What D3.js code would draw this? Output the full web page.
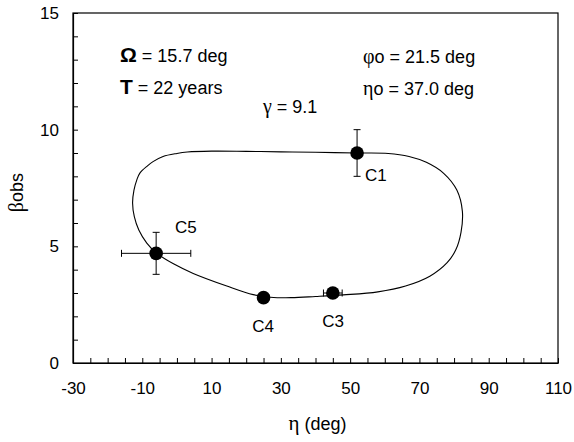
<!DOCTYPE html>
<html>
<head>
<meta charset="utf-8">
<script src="https://cdn.jsdelivr.net/npm/d3@7"></script>
<style>
  body { margin: 0; background: #fff; }
  svg { font-family: "Liberation Sans", Arial, sans-serif; }
</style>
</head>
<body>
<svg id="chart" width="574" height="442"></svg>
<script>
// observed points
var names = ["C1", "C5", "C4", "C3"];
var eta = [52, -6, 25, 45];
var beta = [9.0, 4.7, 2.8, 3.0];
var etaErr = [0, 10, 1.5, 2.7];
var betaErr = [1.0, 0.9, 0.18, 0.18];

// model curve (closed loop)
var curveEta = [-12.8, -12.4, -11.6, -10.7, -8.5, -6.9, -4, 0, 3, 10, 20, 30, 40, 52, 61, 67, 72, 77, 80.8, 82.4, 82, 80.5, 78, 73, 66, 58, 48, 40, 33, 27, 22, 14.4, 4.7, -1, -5.8, -8.7, -11.0, -12.3];
var curveBeta = [6.86, 7.41, 7.84, 8.14, 8.45, 8.63, 8.85, 8.98, 9.04, 9.08, 9.07, 9.05, 9.03, 9.0, 8.98, 8.85, 8.6, 8.13, 7.41, 6.5, 5.6, 4.85, 4.3, 3.72, 3.3, 3.05, 2.92, 2.85, 2.8, 2.82, 2.93, 3.3, 3.84, 4.25, 4.7, 5.14, 5.7, 6.27];

var xTicks = d3.range(-30, 111, 5);
var yTicks = d3.range(0, 16, 1);

var margin = {top: 13, right: 16, bottom: 79, left: 73};
var w = 574 - margin.left - margin.right;
var h = 442 - margin.top - margin.bottom;

var svg = d3.select("#chart");
var g = svg.append("g").attr("transform", "translate(" + margin.left + "," + margin.top + ")");

var x = d3.scaleLinear().domain([-30, 110]).range([0, w]);
var y = d3.scaleLinear().domain([0, 15]).range([h, 0]);

var greek = "Liberation Serif, DejaVu Serif, serif";

// frame
g.append("rect")
  .attr("width", w).attr("height", h)
  .attr("fill", "none").attr("stroke", "#000").attr("stroke-width", 1.2);

var xAxis = d3.axisBottom(x)
  .tickValues(xTicks)
  .tickSizeInner(-5).tickSizeOuter(0)
  .tickPadding(19)
  .tickFormat(function(d) { return (d + 30) % 20 === 0 ? d : ""; });

var yAxis = d3.axisLeft(y)
  .tickValues(yTicks)
  .tickSizeInner(-5).tickSizeOuter(0)
  .tickPadding(14)
  .tickFormat(function(d) { return d % 5 === 0 ? d : ""; });

var gx = g.append("g").attr("transform", "translate(0," + h + ")").call(xAxis);
var gy = g.append("g").call(yAxis);
[gx, gy].forEach(function(a) {
  a.selectAll("text").attr("font-size", 17).attr("fill", "#000")
    .attr("font-family", "Liberation Sans, Arial, sans-serif");
  a.selectAll("line").attr("stroke", "#000");
  a.select(".domain").attr("stroke", "#000").attr("stroke-width", 1.2);
});

// axis titles
var xt = svg.append("text")
  .attr("x", margin.left + w / 2 + 2).attr("y", 430)
  .attr("text-anchor", "middle").attr("font-size", 18);
xt.append("tspan").attr("font-family", greek).attr("font-size", 21).text("η");
xt.append("tspan").text(" (deg)");

var yt = svg.append("text")
  .attr("transform", "translate(23," + (margin.top + y(7.3)) + ") rotate(-90)")
  .attr("text-anchor", "middle").attr("font-size", 18);
yt.append("tspan").attr("font-family", greek).attr("font-size", 20).text("β");
yt.append("tspan").text("obs");

// model curve
var loop = curveEta.map(function(d, i) { return [d, curveBeta[i]]; });
g.append("path")
  .datum(loop)
  .attr("fill", "none").attr("stroke", "#000").attr("stroke-width", 1.1)
  .attr("d", d3.line()
    .x(function(d) { return x(d[0]); })
    .y(function(d) { return y(d[1]); })
    .curve(d3.curveCatmullRomClosed.alpha(0.5)));

// error bars
var pts = names.map(function(n, i) {
  return {name: n, eta: eta[i], beta: beta[i], ex: etaErr[i], ey: betaErr[i]};
});
var cap = 3.5;
var eb = g.append("g").attr("stroke", "#000").attr("stroke-width", 1);
pts.forEach(function(p) {
  if (p.ey > 0) {
    eb.append("line").attr("x1", x(p.eta)).attr("x2", x(p.eta))
      .attr("y1", y(p.beta - p.ey)).attr("y2", y(p.beta + p.ey));
    [p.beta - p.ey, p.beta + p.ey].forEach(function(v) {
      eb.append("line").attr("x1", x(p.eta) - cap).attr("x2", x(p.eta) + cap)
        .attr("y1", y(v)).attr("y2", y(v));
    });
  }
  if (p.ex > 0) {
    eb.append("line").attr("y1", y(p.beta)).attr("y2", y(p.beta))
      .attr("x1", x(p.eta - p.ex)).attr("x2", x(p.eta + p.ex));
    [p.eta - p.ex, p.eta + p.ex].forEach(function(v) {
      eb.append("line").attr("y1", y(p.beta) - cap).attr("y2", y(p.beta) + cap)
        .attr("x1", x(v)).attr("x2", x(v));
    });
  }
});

g.selectAll(".dot").data(pts).enter().append("circle")
  .attr("class", "dot")
  .attr("cx", function(d) { return x(d.eta); })
  .attr("cy", function(d) { return y(d.beta); })
  .attr("r", 6.8).attr("fill", "#000");

// point labels
var labelPos = {C1: [365, 181, "start"], C5: [175, 233, "start"], C4: [263, 332, "middle"], C3: [333, 327, "middle"]};
pts.forEach(function(p) {
  var lp = labelPos[p.name];
  svg.append("text").attr("x", lp[0]).attr("y", lp[1])
    .attr("text-anchor", lp[2]).attr("font-size", 17).text(p.name);
});

// parameter annotations
function note(xp, yp, sym, rest, symSize, bold, fam) {
  var t = svg.append("text").attr("x", xp).attr("y", yp).attr("font-size", 18);
  t.append("tspan").attr("font-size", symSize)
    .attr("font-weight", bold ? "bold" : "normal")
    .attr("font-family", fam).text(sym);
  t.append("tspan").text(rest);
}
note(120, 62, "Ω", " = 15.7 deg", 21, true, "Liberation Sans, Arial, sans-serif");
note(120, 94, "T", " = 22 years", 21, true, "Liberation Sans, Arial, sans-serif");
note(263, 113, "γ", " = 9.1", 20, false, greek);
note(363, 63, "φ", "o = 21.5 deg", 20, false, greek);
note(363, 95, "η", "o = 37.0 deg", 20, false, greek);
</script>
</body>
</html>
